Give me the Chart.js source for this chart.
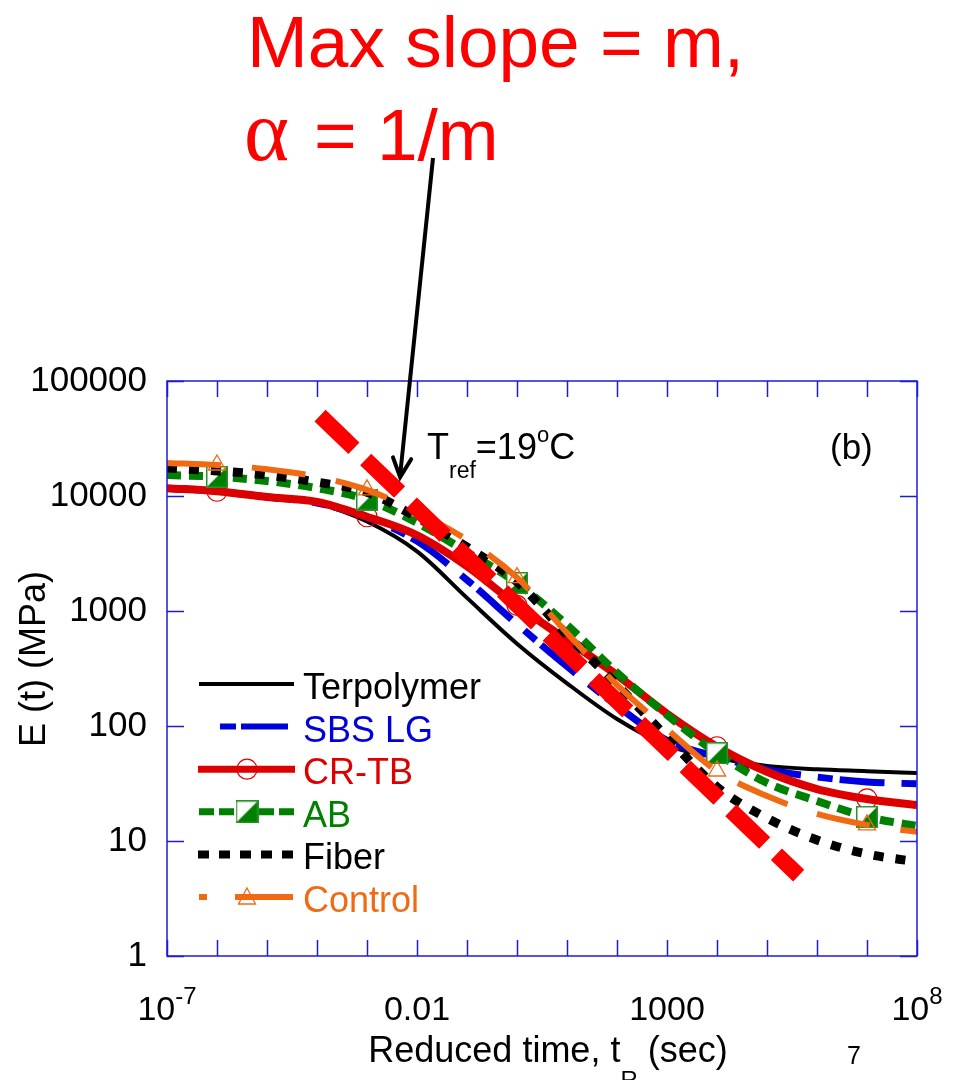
<!DOCTYPE html>
<html>
<head>
<meta charset="utf-8">
<script src="https://cdn.jsdelivr.net/npm/chart.js@4.4.1/dist/chart.umd.min.js"></script>
<style>
html,body{margin:0;padding:0;background:#ffffff;}
#wrap{width:959px;height:1080px;position:relative;}
</style>
</head>
<body>
<div id="wrap"><canvas id="c"></canvas></div>
<script>
// ---------------- data ----------------
const times = [1e-7,1e-6,1e-5,1e-4,1e-3,1e-2,1e-1,1,10,100,1e3,1e4,1e5,1e6,1e7,1e8];
const terpolymer = [11600,10900,9800,8600,6000,3300,1300,520,235,115,68,53,45,42,40.5,39];
const sbsLG      = [11700,11000,9800,8700,6500,4050,1860,770,330,150,75,54,42,36,32.6,31.4];
const crTB       = [11700,11000,9800,8900,6600,4560,2450,1120,560,277,128,66,40,28.3,23.2,20.5];
const ab         = [15200,14700,13500,11700,9300,5850,3250,1750,755,290,125,58,32,22.3,16.2,13.5];
const fiber      = [17500,16500,15200,13200,10800,6500,3600,1790,620,228,80,29.5,15.8,10.2,7.7,6.6];
const control    = [19400,18600,17100,14700,11300,7250,4150,1950,645,228,94,40.6,24.6,17.2,13.8,12.0];
const markerTimes = [1e-6,1e-3,1,1e4,1e7];
const slopeTimes = [1.15e-4, 4.3e5];
const slopeModulus = [50000, 5.0];
const seriesLabels = ['Terpolymer','SBS LG','CR-TB','AB','Fiber','Control'];
const xTickValues = [1e-7, 0.01, 1000, 1e8];
const xTickLabels = [['10','-7'],['0.01',''],['1000',''],['10','8']];
const yTickValues = [1,10,100,1000,10000,100000];
const arrowTip = {t: 4.6e-3, E: 14600};

// ---------------- styles ----------------
const F = "'Liberation Sans', Arial, Helvetica, sans-serif";
const axisBlue = '#1c1cd8';
const cBlack = '#000000', cBlue = '#0000dd', cRed = '#dd0000', cGreen = '#008000', cOrange = '#f06a14';

function makeABMarker(size){
  const c = document.createElement('canvas'); c.width = size; c.height = size;
  const g = c.getContext('2d');
  g.fillStyle = '#ffffff'; g.fillRect(0,0,size,size);
  g.fillStyle = cGreen; g.beginPath(); g.moveTo(size,0); g.lineTo(size,size); g.lineTo(0,size); g.closePath(); g.fill();
  g.strokeStyle = '#2a922a'; g.lineWidth = 1.5; g.strokeRect(0.75,0.75,size-1.5,size-1.5);
  return c;
}
const abImg = makeABMarker(22);
const abLegendImg = makeABMarker(23);

const markerR = times.map(t => markerTimes.includes(t) ? 10 : 0);
const pts = vals => times.map((t,i) => ({x:t, y:vals[i]}));

const common = {cubicInterpolationMode:'monotone', borderCapStyle:'butt', borderJoinStyle:'round', fill:false};

const datasets = [
  {label:'Max slope', data: slopeTimes.map((t,i)=>({x:t,y:slopeModulus[i]})), borderColor:'#ff0000', borderWidth:16, borderDash:[47,16.3], borderCapStyle:'butt', pointRadius:0, tension:0, order:0},
  Object.assign({label:seriesLabels[5], data:pts(control), borderColor:cOrange, borderWidth:6, borderDash:[54,31],
    pointStyle:'triangle', pointRadius:markerR, pointBorderColor:cOrange, pointBackgroundColor:'rgba(0,0,0,0)', pointBorderWidth:1.3, order:1}, common),
  Object.assign({label:seriesLabels[4], data:pts(fiber), borderColor:cBlack, borderWidth:9, borderDash:[10,12], pointRadius:0, order:2}, common),
  Object.assign({label:seriesLabels[3], data:pts(ab), borderColor:cGreen, borderWidth:8, borderDash:[14,8],
    pointStyle:abImg, pointRadius:markerR, order:3}, common),
  Object.assign({label:seriesLabels[2], data:pts(crTB), borderColor:cRed, borderWidth:8,
    pointStyle:'circle', pointRadius:markerR, pointBorderColor:'#e00000', pointBackgroundColor:'rgba(0,0,0,0)', pointBorderWidth:1.2, order:4}, common),
  Object.assign({label:seriesLabels[1], data:pts(sbsLG), borderColor:cBlue, borderWidth:7, borderDash:[45,17,15,7], pointRadius:0, order:5}, common),
  Object.assign({label:seriesLabels[0], data:pts(terpolymer), borderColor:cBlack, borderWidth:4, pointRadius:0, order:6}, common)
];

const legendStyles = {
  'Terpolymer': {dash:[], x0:199, x1:294, w:4, color:cBlack, text:cBlack},
  'SBS LG': {dash:[16,5,47,100], x0:220, x1:288, w:6, color:cBlue, text:cBlue},
  'CR-TB': {dash:[], x0:198, x1:295, w:7, color:cRed, text:cRed, marker:'circle'},
  'AB': {dash:[15,5], x0:199, x1:294, w:7, color:cGreen, text:cGreen, marker:'ab'},
  'Fiber': {dash:[11,10], x0:198, x1:294, w:8, color:cBlack, text:cBlack},
  'Control': {dash:[8,28,100], x0:199, x1:293, w:6, color:cOrange, text:cOrange, marker:'tri'}
};

function pieces(ctx, parts, startX){
  let xx = startX;
  for (const p of parts){
    ctx.font = p.font; ctx.fillStyle = p.color || '#000';
    ctx.fillText(p.text, xx, p.y);
    xx += ctx.measureText(p.text).width;
  }
}
function piecesWidth(ctx, parts){
  let w = 0;
  for (const p of parts){ ctx.font = p.font; w += ctx.measureText(p.text).width; }
  return w;
}

const overlay = {
  id:'overlay',
  afterDraw(chart){
    const {ctx, chartArea:a} = chart;
    const xs = chart.scales.x, ys = chart.scales.y;
    ctx.save();
    // axis frame and inward ticks
    ctx.strokeStyle = axisBlue; ctx.lineWidth = 1.5; ctx.setLineDash([]);
    ctx.strokeRect(a.left, a.top, a.right-a.left, a.bottom-a.top);
    ctx.beginPath();
    for (const t of times){
      const px = Math.round(xs.getPixelForValue(t)) + 0.5;
      ctx.moveTo(px, a.bottom); ctx.lineTo(px, a.bottom-16);
      ctx.moveTo(px, a.top); ctx.lineTo(px, a.top+16);
    }
    for (const v of yTickValues){
      const py = Math.round(ys.getPixelForValue(v)) + 0.5;
      ctx.moveTo(a.left, py); ctx.lineTo(a.left+17, py);
      ctx.moveTo(a.right, py); ctx.lineTo(a.right-17, py);
    }
    ctx.stroke();

    ctx.textAlign = 'left'; ctx.textBaseline = 'alphabetic';
    // x tick labels
    xTickValues.forEach((v,i) => {
      const [main, sup] = xTickLabels[i];
      const parts = [{text:main, font:`34px ${F}`, y:1020}];
      if (sup) parts.push({text:sup, font:`24px ${F}`, y:1004});
      const w = piecesWidth(ctx, parts);
      pieces(ctx, parts, xs.getPixelForValue(v) - w/2);
    });

    // x axis title
    const xt = [
      {text:'Reduced time, t', font:`36px ${F}`, y:1062},
      {text:'R', font:`24px ${F}`, y:1088},
      {text:' (sec)', font:`36px ${F}`, y:1062}
    ];
    pieces(ctx, xt, 548 - piecesWidth(ctx, xt)/2);

    // slide number
    ctx.font = `25px ${F}`; ctx.fillStyle = '#000';
    ctx.fillText('7', 847, 1064);

    // y axis title
    ctx.save();
    ctx.translate(45, 659); ctx.rotate(-Math.PI/2);
    ctx.textAlign = 'center'; ctx.font = `36px ${F}`; ctx.fillStyle = '#000';
    ctx.fillText('E (t) (MPa)', 0, 0);
    ctx.restore();

    // title text
    ctx.fillStyle = '#ff0000';
    ctx.font = `73px ${F}`;
    ctx.fillText('Max slope = m,', 247, 67);
    ctx.font = `86px 'Liberation Serif', 'Times New Roman', serif`;
    ctx.fillText('\u03b1', 244, 160);
    ctx.font = `73px ${F}`;
    ctx.fillText('= 1/m', 314, 160);

    // T_ref label and panel tag
    pieces(ctx, [
      {text:'T', font:`36px ${F}`, y:459},
      {text:'ref', font:`23px ${F}`, y:478},
      {text:'=19', font:`36px ${F}`, y:459},
      {text:'o', font:`22px ${F}`, y:442},
      {text:'C', font:`36px ${F}`, y:459}
    ], 427);
    ctx.font = `35px ${F}`; ctx.fillStyle = '#000';
    ctx.fillText('(b)', 830, 459);

    // arrow
    const tipX = xs.getPixelForValue(arrowTip.t), tipY = ys.getPixelForValue(arrowTip.E);
    const tailX = 433, tailY = 158;
    ctx.strokeStyle = '#000'; ctx.lineWidth = 4; ctx.lineCap = 'butt';
    ctx.beginPath(); ctx.moveTo(tailX, tailY); ctx.lineTo(tipX, tipY - 2); ctx.stroke();
    const ang = Math.atan2(tipY - tailY, tipX - tailX);
    ctx.lineCap = 'round'; ctx.lineJoin = 'miter';
    ctx.beginPath();
    ctx.moveTo(tipX - 21*Math.cos(ang - 0.45), tipY - 21*Math.sin(ang - 0.45));
    ctx.lineTo(tipX, tipY);
    ctx.lineTo(tipX - 21*Math.cos(ang + 0.45), tipY - 21*Math.sin(ang + 0.45));
    ctx.stroke();

    // legend
    seriesLabels.forEach((lab, i) => {
      const st = legendStyles[lab];
      const yy = 684 + i*42.6;
      ctx.strokeStyle = st.color; ctx.lineWidth = st.w; ctx.lineCap = 'butt';
      ctx.setLineDash(st.dash);
      ctx.beginPath(); ctx.moveTo(st.x0, yy); ctx.lineTo(st.x1, yy); ctx.stroke();
      ctx.setLineDash([]);
      if (st.marker === 'circle'){
        ctx.strokeStyle = '#e00000'; ctx.lineWidth = 1.2;
        ctx.beginPath(); ctx.arc(247, yy, 10, 0, Math.PI*2); ctx.stroke();
      } else if (st.marker === 'ab'){
        ctx.drawImage(abLegendImg, 247 - 11.5, yy - 11.5);
      } else if (st.marker === 'tri'){
        ctx.strokeStyle = cOrange; ctx.lineWidth = 1.3;
        ctx.beginPath(); ctx.moveTo(247, yy - 9); ctx.lineTo(255.5, yy + 7); ctx.lineTo(238.5, yy + 7); ctx.closePath(); ctx.stroke();
      }
      ctx.font = `36px ${F}`; ctx.fillStyle = st.text;
      ctx.fillText(lab, 303, yy + 15);
    });
    ctx.restore();
  }
};

new Chart(document.getElementById('c'), {
  type:'line',
  data:{datasets},
  options:{
    responsive:true, maintainAspectRatio:false, animation:false, events:[],
    layout:{padding:{left:0, right:42, top:381, bottom:124}},
    plugins:{legend:{display:false}, tooltip:{enabled:false}},
    scales:{
      x:{type:'logarithmic', min:1e-7, max:1e8,
         grid:{display:false, drawTicks:false}, border:{display:false},
         ticks:{display:false},
         afterFit:s=>{s.height=0; s.paddingLeft=0; s.paddingRight=0;}},
      y:{type:'logarithmic', min:1, max:100000,
         grid:{display:false, drawTicks:false}, border:{display:false},
         afterBuildTicks:s=>{ s.ticks = yTickValues.map(v=>({value:v})); },
         ticks:{autoSkip:false, padding:20, color:'#000', font:{family:"'Liberation Sans', Arial, sans-serif", size:35},
                callback:v=>String(v)},
         afterFit:s=>{s.width=167; s.paddingTop=0; s.paddingBottom=0;}}
    }
  },
  plugins:[overlay]
});
</script>
</body>
</html>
